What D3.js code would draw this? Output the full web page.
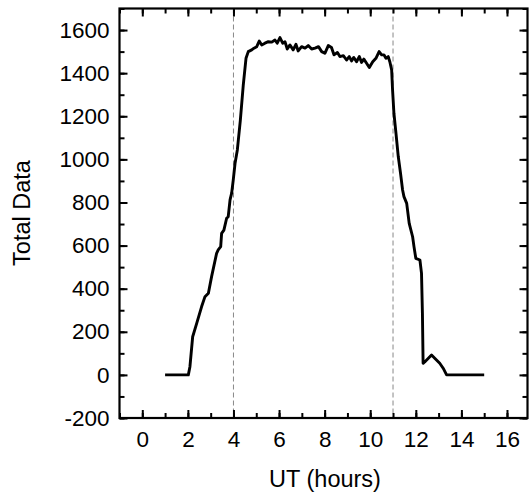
<!DOCTYPE html>
<html>
<head>
<meta charset="utf-8">
<script src="https://cdn.jsdelivr.net/npm/d3@7"></script>
<style>
  html, body { margin: 0; padding: 0; background: #fff; }
  svg { display: block; font-family: "Liberation Sans", Arial, sans-serif; }
</style>
</head>
<body>
<svg id="chart" width="530" height="493"></svg>
<script>
// ---- data ----
const hours = [
  1.0, 2.02, 2.09, 2.21, 2.39, 2.60, 2.75, 2.90, 3.04, 3.26, 3.33, 3.44, 3.48, 3.58, 3.70, 3.77,
  3.85, 3.92, 3.99, 4.07, 4.17, 4.30, 4.43, 4.55, 4.65, 4.80, 4.90, 5.02, 5.13, 5.24, 5.38,
  5.53, 5.68, 5.82, 5.92, 6.04, 6.16, 6.26, 6.36, 6.48, 6.62, 6.74, 6.84, 6.99, 7.14, 7.28,
  7.43, 7.58, 7.73, 7.87, 8.01, 8.16, 8.30, 8.41, 8.56, 8.67, 8.82, 8.96, 9.08, 9.18, 9.28,
  9.40, 9.52, 9.62, 9.72, 9.84, 9.96, 10.11, 10.25, 10.39, 10.50, 10.60, 10.69, 10.79, 10.86,
  10.94, 10.98, 11.04, 11.13, 11.23, 11.33, 11.42, 11.48, 11.60, 11.71, 11.86, 11.92, 12.00,
  12.18, 12.25, 12.29, 12.32, 12.39, 12.69, 12.83, 13.05, 13.20, 13.35, 15.0
];
const totals = [
  0, 0, 38, 177, 240, 316, 363, 379, 456, 564, 580, 595, 657, 672, 727, 734,
  812, 843, 904, 982, 1044, 1180, 1345, 1469, 1500, 1508, 1516, 1523, 1549, 1531, 1539,
  1546, 1544, 1554, 1539, 1565, 1539, 1546, 1512, 1531, 1508, 1534, 1503, 1523, 1516, 1528,
  1512, 1516, 1523, 1500, 1492, 1528, 1519, 1485, 1496, 1477, 1481, 1461, 1477, 1457, 1473,
  1453, 1477, 1450, 1465, 1446, 1426, 1453, 1469, 1500, 1485, 1485, 1469, 1477, 1453,
  1415, 1322, 1214, 1121, 1013, 935, 858, 827, 796, 703, 641, 595, 541,
  533, 471, 286, 54, 60, 92, 77, 54, 31, 0, 0
];
const xTicks = [0, 2, 4, 6, 8, 10, 12, 14, 16];
const yTicks = [-200, 0, 200, 400, 600, 800, 1000, 1200, 1400, 1600];
const markerHours = [4, 11];
const xLabel = "UT (hours)";
const yLabel = "Total Data";

// ---- layout ----
const svg = d3.select("#chart");
const pL = 119.5, pR = 527.5, pT = 8.5, pB = 418;

const x = d3.scaleLinear().domain([-1, 16.9]).range([pL, pR]);
const y = d3.scaleLinear().domain([-200, 1700]).range([pB, pT]);

const tickFont = 22.5;
const titleFont = 23.5;
const fmt = d => String(d); // plain hyphen for negatives

// dashed marker lines
svg.append("g").selectAll("line").data(markerHours).join("line")
  .attr("x1", d => x(d)).attr("x2", d => x(d))
  .attr("y1", pT).attr("y2", pB)
  .attr("stroke", "#888").attr("stroke-width", 1).attr("stroke-dasharray", "5,3");

// data line
const pts = hours.map((h, i) => [h, totals[i]]);
svg.append("path").datum(pts)
  .attr("fill", "none").attr("stroke", "#000").attr("stroke-width", 2.9)
  .attr("stroke-linejoin", "round")
  .attr("d", d3.line().x(d => x(d[0])).y(d => y(d[1])));

// axes with inward ticks
const xMinor = d3.range(-1, 17, 1);
const yMinor = d3.range(-200, 1701, 100);
const major = 8, minor = 5;

function styleAxis(g) {
  g.select(".domain").remove();
  g.selectAll(".tick line").attr("stroke", "#000").attr("stroke-width", 2);
}

// bottom
svg.append("g").attr("transform", `translate(0,${pB})`)
  .call(d3.axisBottom(x).tickValues(xMinor).tickSize(-minor).tickFormat(""))
  .call(styleAxis);
svg.append("g").attr("transform", `translate(0,${pB})`)
  .call(d3.axisBottom(x).tickValues(xTicks).tickSize(-major).tickPadding(13).tickFormat(fmt))
  .call(styleAxis)
  .call(g => g.selectAll("text").attr("font-size", tickFont).attr("fill", "#000")
    .attr("font-family", "Liberation Sans, Arial, sans-serif"));
// top
svg.append("g").attr("transform", `translate(0,${pT})`)
  .call(d3.axisTop(x).tickValues(xMinor).tickSize(-minor).tickFormat(""))
  .call(styleAxis);
svg.append("g").attr("transform", `translate(0,${pT})`)
  .call(d3.axisTop(x).tickValues(xTicks).tickSize(-major).tickFormat(""))
  .call(styleAxis);
// left
svg.append("g").attr("transform", `translate(${pL},0)`)
  .call(d3.axisLeft(y).tickValues(yMinor).tickSize(-minor).tickFormat(""))
  .call(styleAxis);
svg.append("g").attr("transform", `translate(${pL},0)`)
  .call(d3.axisLeft(y).tickValues(yTicks).tickSize(-major).tickPadding(10).tickFormat(fmt))
  .call(styleAxis)
  .call(g => g.selectAll("text").attr("font-size", tickFont).attr("fill", "#000")
    .attr("font-family", "Liberation Sans, Arial, sans-serif"));
// right
svg.append("g").attr("transform", `translate(${pR},0)`)
  .call(d3.axisRight(y).tickValues(yMinor).tickSize(-minor).tickFormat(""))
  .call(styleAxis);
svg.append("g").attr("transform", `translate(${pR},0)`)
  .call(d3.axisRight(y).tickValues(yTicks).tickSize(-major).tickFormat(""))
  .call(styleAxis);

// frame
svg.append("rect").attr("x", pL).attr("y", pT)
  .attr("width", pR - pL).attr("height", pB - pT)
  .attr("fill", "none").attr("stroke", "#000").attr("stroke-width", 2.2);

// axis titles
svg.append("text").attr("x", 325).attr("y", 487)
  .attr("text-anchor", "middle").attr("font-size", titleFont).attr("fill", "#000")
  .text(xLabel);
svg.append("text").attr("transform", `translate(30,${213}) rotate(-90)`)
  .attr("text-anchor", "middle").attr("font-size", titleFont).attr("fill", "#000")
  .text(yLabel);
</script>
</body>
</html>
